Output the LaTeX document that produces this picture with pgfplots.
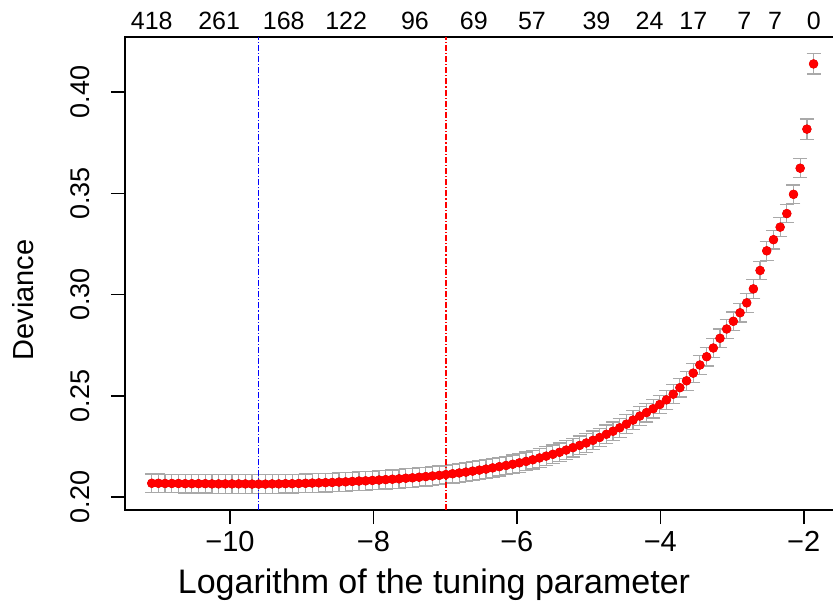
\documentclass[border=0pt]{standalone}
\usepackage{fontspec}
\setmainfont{Liberation Sans}
\usepackage{pgfplots}
\usepackage{pgfplotstable}
\pgfplotsset{compat=1.18}

\definecolor{errgrey}{HTML}{A9A9A9}

% cross-validated deviance (mean and standard error) per log(lambda)
\pgfplotstableread{
x y e
-11.090 0.2068 0.0046
-10.997 0.2068 0.0046
-10.904 0.2067 0.0046
-10.810 0.2067 0.0046
-10.717 0.2067 0.0046
-10.624 0.2066 0.0046
-10.531 0.2066 0.0046
-10.438 0.2066 0.0046
-10.344 0.2066 0.0046
-10.251 0.2065 0.0046
-10.158 0.2065 0.0046
-10.065 0.2065 0.0046
-9.972 0.2065 0.0046
-9.878 0.2065 0.0046
-9.785 0.2065 0.0046
-9.692 0.2064 0.0046
-9.599 0.2064 0.0046
-9.506 0.2064 0.0046
-9.412 0.2065 0.0046
-9.319 0.2065 0.0046
-9.226 0.2066 0.0046
-9.133 0.2066 0.0046
-9.040 0.2067 0.0046
-8.946 0.2068 0.0046
-8.853 0.2069 0.0046
-8.760 0.2070 0.0046
-8.667 0.2071 0.0046
-8.574 0.2072 0.0046
-8.480 0.2074 0.0046
-8.387 0.2075 0.0046
-8.294 0.2077 0.0046
-8.201 0.2079 0.0046
-8.108 0.2080 0.0046
-8.014 0.2082 0.0046
-7.921 0.2084 0.0046
-7.828 0.2086 0.0046
-7.735 0.2088 0.0046
-7.642 0.2090 0.0046
-7.548 0.2093 0.0046
-7.455 0.2095 0.0046
-7.362 0.2098 0.0046
-7.269 0.2101 0.0046
-7.176 0.2104 0.0046
-7.082 0.2107 0.0046
-6.989 0.2111 0.0046
-6.896 0.2115 0.0046
-6.803 0.2119 0.0046
-6.710 0.2123 0.0046
-6.616 0.2128 0.0046
-6.523 0.2133 0.0046
-6.430 0.2138 0.0046
-6.337 0.2144 0.0046
-6.244 0.2150 0.0046
-6.150 0.2156 0.0046
-6.057 0.2162 0.0046
-5.964 0.2169 0.0046
-5.871 0.2176 0.0046
-5.778 0.2184 0.0046
-5.684 0.2193 0.0046
-5.591 0.2202 0.0046
-5.498 0.2211 0.0046
-5.405 0.2221 0.0046
-5.312 0.2232 0.0046
-5.218 0.2244 0.0046
-5.125 0.2255 0.0046
-5.032 0.2267 0.0046
-4.939 0.2280 0.0046
-4.846 0.2294 0.0046
-4.752 0.2310 0.0046
-4.659 0.2325 0.0046
-4.566 0.2342 0.0046
-4.473 0.2360 0.0046
-4.380 0.2380 0.0046
-4.286 0.2400 0.0046
-4.193 0.2417 0.0046
-4.100 0.2436 0.0046
-4.007 0.2457 0.0046
-3.914 0.2480 0.0046
-3.820 0.2508 0.0046
-3.727 0.2540 0.0046
-3.634 0.2574 0.0046
-3.541 0.2612 0.0046
-3.448 0.2652 0.0046
-3.354 0.2693 0.0046
-3.261 0.2736 0.0046
-3.168 0.2784 0.0046
-3.075 0.2830 0.0046
-2.982 0.2868 0.0046
-2.888 0.2910 0.0046
-2.795 0.2959 0.0046
-2.702 0.3028 0.0046
-2.609 0.3119 0.0046
-2.516 0.3216 0.0046
-2.422 0.3271 0.0046
-2.329 0.3333 0.0046
-2.236 0.3400 0.0046
-2.143 0.3495 0.0046
-2.050 0.3624 0.0046
-1.956 0.3817 0.0050
-1.863 0.4139 0.0050
}\cvtable

\begin{document}
\begin{tikzpicture}
  \begin{axis}[
    name=ax,
    scale only axis,
    width=355.5pt, height=236.5pt,
    xmin=-11.463, xmax=-1.55,
    ymin=0.1936, ymax=0.4272,
    axis line style={line width=0.75pt},
    tick style={line width=0.75pt, black},
    tick align=outside, tick pos=left,
    major tick length=7pt,
    xtick={-10,-8,-6,-4,-2},
    xticklabels={−10,−8,−6,−4,−2},
    ytick={0.20,0.25,0.30,0.35,0.40},
    yticklabels={0.20,0.25,0.30,0.35,0.40},
    xticklabel style={font=\fontsize{14.5}{16}\selectfont},
    yticklabel style={font=\fontsize{13.5}{15}\selectfont, rotate=90, anchor=south},
    yticklabel shift=7pt,
    xlabel={Logarithm of the tuning parameter},
    ylabel={Deviance},
    xlabel style={font=\fontsize{17}{19}\selectfont, at={(axis description cs:0.4346,-0.1586)}, anchor=center},
    ylabel style={font=\fontsize{14.5}{16}\selectfont, at={(axis description cs:-0.1435,0.444)}, anchor=center},
    clip=false,
  ]
  % error bars first, points drawn on top
  \addplot[only marks, mark=none, forget plot,
    error bars/.cd, y dir=both, y explicit,
    error bar style={draw=errgrey, line width=0.6pt},
    error mark options={rotate=90, draw=errgrey, line width=0.6pt, mark size=3.5pt}]
    table[x=x, y=y, y error=e] {\cvtable};
  \addplot[only marks, mark=*, mark size=2.15pt, color=red, fill=red]
    table[x=x, y=y] {\cvtable};

  % lambda.min and lambda.1se
  \addplot[draw=blue, line width=0.6pt, dash pattern=on 3pt off 1pt on 0.6pt off 1pt]
    coordinates {(-9.599,0.1936) (-9.599,0.4272)};
  \addplot[draw=red, line width=0.6pt, dash pattern=on 3pt off 1pt on 0.6pt off 1pt]
    coordinates {(-6.989,0.1936) (-6.989,0.4272)};
  \end{axis}

  % number of nonzero coefficients along the top
  \begin{axis}[
    scale only axis,
    width=355.5pt, height=236.5pt,
    xmin=-11.463, xmax=-1.55,
    ymin=0, ymax=1,
    hide y axis,
    axis x line*=top,
    x axis line style={draw=none},
    xtick style={draw=none},
    xtick={-11.09,-10.15,-9.25,-8.38,-7.42,-6.60,-5.79,-4.89,-4.15,-3.54,-2.83,-2.40,-1.86},
    xticklabels={418,261,168,122,96,69,57,39,24,17,7,7,0},
    xticklabel style={font=\fontsize{12.5}{14}\selectfont},
  ]
  \end{axis}

  \pgfresetboundingbox
  \path[use as bounding box] ([shift={(-62.5pt,-49pt)}]ax.south west)
    rectangle ([shift={(354pt,18.5pt)}]ax.north west);
\end{tikzpicture}
\end{document}
